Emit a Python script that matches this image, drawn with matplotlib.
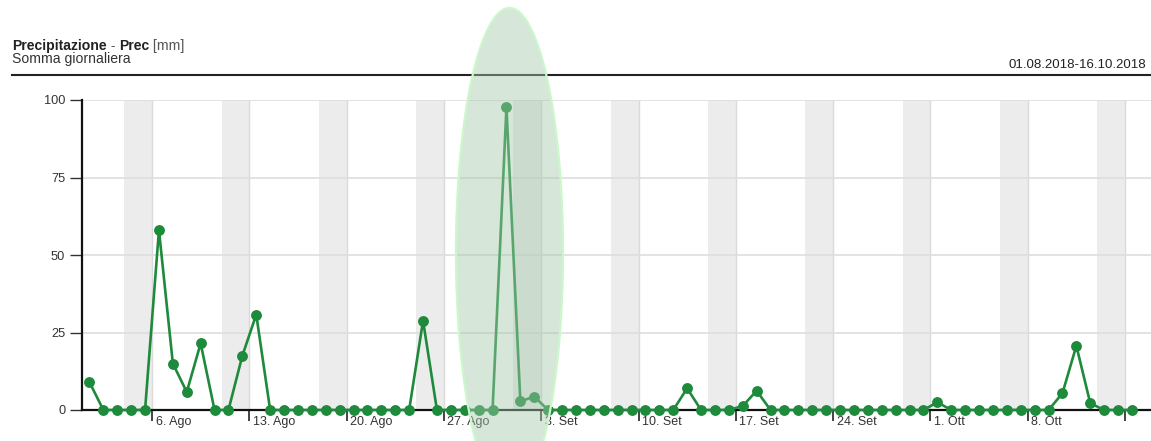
import datetime as dt
import matplotlib
matplotlib.use("Agg")
import matplotlib.pyplot as plt
import matplotlib.transforms as mtransforms
from matplotlib.patches import Ellipse
from matplotlib.lines import Line2D

plt.rcParams['font.family'] = ['Liberation Sans', 'DejaVu Sans']

# ---------------- data ----------------
start_date = dt.date(2018, 8, 1)
precip_mm = [
    9.0, 0, 0, 0, 0, 58.0, 15.0, 5.8, 21.5, 0, 0, 17.5, 30.8,      # 1-13 Aug
    0, 0, 0, 0, 0, 0, 0, 0, 0, 0, 0,                                # 14-24 Aug
    28.8, 0, 0, 0, 0, 0, 97.7,                                      # 25-31 Aug
    2.8, 4.3, 0, 0, 0, 0, 0, 0, 0, 0, 0, 0,                         # 1-12 Set
    7.0, 0, 0, 0, 1.3, 6.2,                                         # 13-18 Set
    0, 0, 0, 0, 0, 0, 0, 0, 0, 0, 0, 0,                             # 19-30 Set
    2.5, 0, 0, 0, 0, 0, 0, 0, 0, 5.4, 20.7, 2.2, 0, 0, 0,           # 1-15 Ott
]
tick_labels = ["6. Ago", "13. Ago", "20. Ago", "27. Ago", "3. Set",
               "10. Set", "17. Set", "24. Set", "1. Ott", "8. Ott", ""]
y_ticks = [0, 25, 50, 75, 100]
title_parts = [("Precipitazione", "bold", "#222222"), (" - ", "normal", "#555555"),
               ("Prec", "bold", "#222222"), (" [mm]", "normal", "#555555")]
subtitle = "Somma giornaliera"
date_range = "01.08.2018-16.10.2018"

# ---------------- figure ----------------
W, H = 1151, 441
fig = plt.figure(figsize=(W / 100, H / 100), dpi=100)
px_day = 13.9
left_px = 82.5
ax = fig.add_axes([left_px / W, (H - 410) / H, (W - left_px) / W, 310 / H])

n = len(precip_mm)
x_days = [i + 0.5 for i in range(n)]
first_monday = (7 - start_date.weekday()) % 7  # days to first Monday
tick_pos = [first_monday + 7 * k for k in range(len(tick_labels))]

# weekend shading
for d in range(0, 80):
    day = start_date + dt.timedelta(days=d)
    if day.weekday() == 5:
        ax.axvspan(d, d + 2, color="#ececec", lw=0, zorder=0.2)

ax.plot(x_days, precip_mm, color="#1e8a3c", lw=1.9, marker="o", ms=6.8,
        clip_on=False, zorder=3)

ax.set_xlim(0, (W - left_px) / px_day)
ax.set_ylim(0, 100)
ax.set_yticks(y_ticks)
ax.set_xticks(tick_pos)
ax.set_xticklabels(tick_labels)

ax.set_axisbelow(True)
ax.yaxis.grid(True, color="#dedede", lw=1.2)
ax.xaxis.grid(True, color="#dadada", lw=1.0)

for s in ["top", "right"]:
    ax.spines[s].set_visible(False)
for s in ["left", "bottom"]:
    ax.spines[s].set_linewidth(1.6)
    ax.spines[s].set_color("#111111")

ax.tick_params(axis="y", length=8.5, width=1.0, color="#333333",
               labelsize=9.2, labelcolor="#333333", pad=4)
ax.tick_params(axis="x", length=8, width=1.1, color="#111111",
               labelsize=9, labelcolor="#333333", pad=-3.7)
offset = mtransforms.ScaledTranslation(0.035, 0, fig.dpi_scale_trans)
for lab in ax.get_xticklabels():
    lab.set_ha("left")
    lab.set_transform(lab.get_transform() + offset)

# header
renderer = fig.canvas.get_renderer()
xpos = 12
for s, wgt, col in title_parts:
    t = fig.text(xpos / W, 1 - 50 / H, s, fontsize=10.1, fontweight=wgt,
                 color=col, ha="left", va="baseline")
    bb = t.get_window_extent(renderer)
    xpos = bb.x1
fig.text(12 / W, 1 - 63 / H, subtitle, fontsize=10.1, color="#333333",
         ha="left", va="baseline")
fig.text(1146 / W, 1 - 67.5 / H, date_range, fontsize=9.5, color="#222222",
         ha="right", va="baseline")
fig.add_artist(Line2D([12 / W, 1], [1 - 74.5 / H, 1 - 74.5 / H], color="#222222",
                      lw=1.5, transform=fig.transFigure))

# highlight ellipse
ell = Ellipse((509.5 / W, 1 - 252 / H), 107 / W, 488 / H,
              transform=fig.transFigure,
              facecolor=(164 / 255, 200 / 255, 169 / 255, 0.45),
              edgecolor=(0.80, 0.97, 0.80, 1.0), lw=1.6, zorder=5)
fig.add_artist(ell)

fig.savefig("out.png", dpi=100)
